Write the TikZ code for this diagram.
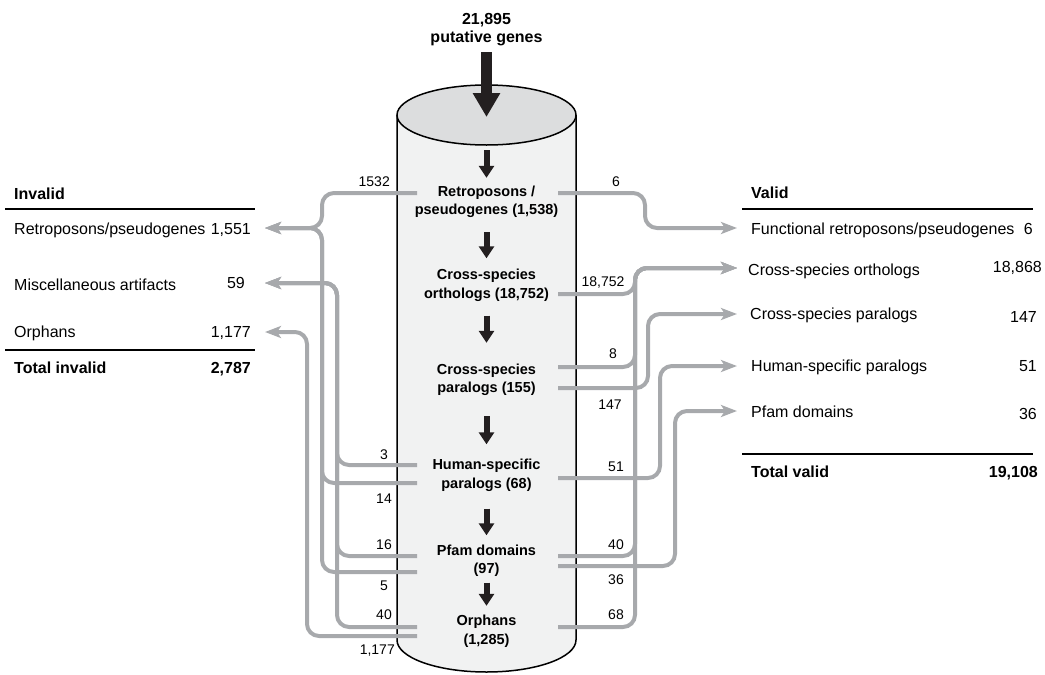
\documentclass[tikz,border=0pt]{standalone}
\usepackage{fontspec}
\setmainfont{Liberation Sans}
\usepackage{tikz}
\usetikzlibrary{arrows.meta, positioning}

\definecolor{flowgray}{HTML}{A7A9AC}
\definecolor{cylbody}{HTML}{F1F2F2}
\definecolor{cyltop}{HTML}{DCDDDE}
\definecolor{inkblack}{HTML}{231F20}

\begin{document}
\begin{tikzpicture}[
    x=1pt, y=-1pt,
    stage/.style={align=center, inner sep=0pt, font=\bfseries\fontsize{14.5}{18.5}\selectfont},
    listtext/.style={inner sep=0pt, font=\fontsize{16}{18}\selectfont},
    listhead/.style={inner sep=0pt, font=\bfseries\fontsize{16}{18}\selectfont},
    count/.style={inner sep=0pt, font=\fontsize{14}{16}\selectfont},
    rule/.style={draw=black, line width=2.5pt},
    flow/.style={draw=flowgray, line width=4pt, rounded corners=12pt},
    flowarrow/.style={flow, -{Stealth[length=16pt, width=12pt, inset=4pt]}},
    downarrow/.style={draw=inkblack, line width=6pt, -{Triangle[length=12pt, width=15pt]}},
    bigarrow/.style={draw=inkblack, line width=11pt, -{Triangle[length=24pt, width=26pt]}}
]
\useasboundingbox (0,0) rectangle (1045,675);

% the cylinder
\fill[cylbody] (397,115) -- (397,640) arc[start angle=180, end angle=0, x radius=89.5, y radius=32] -- (576,115) -- cycle;
\draw[line width=1.5pt] (397,115) -- (397,640) arc[start angle=180, end angle=0, x radius=89.5, y radius=32] -- (576,115);
\filldraw[fill=cyltop, line width=1.5pt] (486.5,115) ellipse [x radius=89.5, y radius=30];

% input
\node (title) [listhead, align=center] at (486.5,30) {21,895\\putative genes};
\coordinate (lid) at (486.5,117);
\draw[bigarrow, shorten <=6pt] (title) -- (lid);

% stages
\node (ret) [stage] at (486.5,202) {Retroposons /\\pseudogenes (1,538)};
\node (ortho) [stage] at (486.5,285.5) {Cross-species\\orthologs (18,752)};
\node (para) [stage] at (486.5,380) {Cross-species\\paralogs (155)};
\node (human) [stage] at (486.5,475.5) {Human-specific\\paralogs (68)};
\node (pfam) [stage] at (486.5,560.5) {Pfam domains\\(97)};
\node (orph) [stage] at (486.5,631) {Orphans\\(1,285)};

\coordinate (lidfront) at (486.5,150);
\draw[downarrow, shorten >=8pt] (lidfront) -- (ret);
\draw[downarrow, shorten <=14pt, shorten >=11pt] (ret) -- (ortho);
\draw[downarrow, shorten <=14pt, shorten >=21pt] (ortho) -- (para);
\draw[downarrow, shorten <=20pt, shorten >=15pt] (para) -- (human);
\draw[downarrow, shorten <=17pt, shorten >=9pt] (human) -- (pfam);
\draw[downarrow, shorten <=6pt, shorten >=9pt] (pfam) -- (orph);

% invalid list
\node (invhead) [listhead, anchor=base west] at (14,199) {Invalid};
\draw[rule] (5,209) -- (255,209);
\node (invret) [listtext, anchor=base west] at (14,234) {Retroposons/pseudogenes};
\node (invretn) [listtext, anchor=base east] at (251,234) {1,551};
\node (invmisc) [listtext, anchor=base west] at (14,290) {Miscellaneous artifacts};
\node (invmiscn) [listtext, anchor=base east] at (245,288) {59};
\node (invorph) [listtext, anchor=base west] at (14,337) {Orphans};
\node (invorphn) [listtext, anchor=base east] at (251,337) {1,177};
\draw[rule] (5,350) -- (255,350);
\node (invtot) [listhead, anchor=base west] at (14,373) {Total invalid};
\node (invtotn) [listhead, anchor=base east] at (251,373) {2,787};

% valid list
\node (valhead) [listhead, anchor=base west] at (751,198) {Valid};
\draw[rule] (742,209) -- (1033,209);
\node (valfunc) [listtext, anchor=base west] at (751,234) {Functional retroposons/pseudogenes};
\node (valfuncn) [listtext, anchor=base east] at (1033,234) {6};
\node (valortho) [listtext, anchor=base west] at (748,275) {Cross-species orthologs};
\node (valorthon) [listtext, anchor=base east] at (1042,272) {18,868};
\node (valpara) [listtext, anchor=base west] at (750,319) {Cross-species paralogs};
\node (valparan) [listtext, anchor=base east] at (1037,322) {147};
\node (valhuman) [listtext, anchor=base west] at (751,371) {Human-specific paralogs};
\node (valhumann) [listtext, anchor=base east] at (1037,371) {51};
\node (valpfam) [listtext, anchor=base west] at (751,417) {Pfam domains};
\node (valpfamn) [listtext, anchor=base east] at (1037,419) {36};
\draw[rule] (742,454) -- (1033,454);
\node (valtot) [listhead, anchor=base west] at (751,477) {Total valid};
\node (valtotn) [listhead, anchor=base east] at (1038,477) {19,108};

% flow ends
\coordinate (l1532) at (417,193);
\coordinate (l3) at (417,465);
\coordinate (l14) at (417,483);
\coordinate (l16) at (417,556);
\coordinate (l5) at (417,572);
\coordinate (l40) at (417,627);
\coordinate (l1177) at (417,636);
\coordinate (retjoin) at (322,228);
\coordinate (miscjoin) at (337,283);
\coordinate (orphjoin) at (307,332);
\coordinate (invrettip) at (265,228);
\coordinate (invmisctip) at (265,283);
\coordinate (invorphtip) at (265,332);

\coordinate (r6) at (558,193);
\coordinate (r18752) at (558,294);
\coordinate (r8) at (558,367);
\coordinate (r147) at (558,388);
\coordinate (r51) at (558,478);
\coordinate (r40) at (558,556);
\coordinate (r36) at (558,566);
\coordinate (r68) at (558,627);
\coordinate (funcjoin) at (645,228);
\coordinate (orthjoin) at (635,268);
\coordinate (parajoin) at (648,314);
\coordinate (humjoin) at (660,366);
\coordinate (pfamjoin) at (675,411);
\coordinate (valfunctip) at (737,228);
\coordinate (valorthotip) at (737,268);
\coordinate (valparatip) at (737,314);
\coordinate (valhumantip) at (737,366);
\coordinate (valpfamtip) at (737,411);

% invalid flows
\draw[flowarrow] (l1532) -| (retjoin) -- (invrettip);
\draw[flowarrow] (l14) -| (retjoin) -- (invrettip);
\draw[flowarrow] (l5) -| (retjoin) -- (invrettip);
\draw[flowarrow] (l3) -| (miscjoin) -- (invmisctip);
\draw[flowarrow] (l16) -| (miscjoin) -- (invmisctip);
\draw[flowarrow] (l40) -| (miscjoin) -- (invmisctip);
\draw[flowarrow] (l1177) -| (orphjoin) -- (invorphtip);

% valid flows
\draw[flowarrow] (r6) -| (funcjoin) -- (valfunctip);
\draw[flowarrow] (r18752) -| (orthjoin) -- (valorthotip);
\draw[flowarrow] (r8) -| (orthjoin) -- (valorthotip);
\draw[flowarrow] (r40) -| (orthjoin) -- (valorthotip);
\draw[flowarrow] (r68) -| (orthjoin) -- (valorthotip);
\draw[flowarrow] (r147) -| (parajoin) -- (valparatip);
\draw[flowarrow] (r51) -| (humjoin) -- (valhumantip);
\draw[flowarrow] (r36) -| (pfamjoin) -- (valpfamtip);

% counts on the flows
\node (c1532) [count, anchor=base east] at (390,186) {1532};
\node (c3) [count, anchor=base east] at (388,459) {3};
\node (c14) [count, anchor=base east] at (392,503) {14};
\node (c16) [count, anchor=base east] at (392,549) {16};
\node (c5) [count, anchor=base east] at (388,590) {5};
\node (c40l) [count, anchor=base east] at (392,619) {40};
\node (c1177) [count, anchor=base east] at (395,654) {1,177};
\node (c6) [count, anchor=base] at (616,186) {6};
\node (c18752) [count, anchor=base] at (603,286) {18,752};
\node (c8) [count, anchor=base] at (613,358) {8};
\node (c147) [count, anchor=base] at (610,409) {147};
\node (c51) [count, anchor=base] at (616,471) {51};
\node (c40r) [count, anchor=base] at (616,549) {40};
\node (c36) [count, anchor=base] at (616,584) {36};
\node (c68) [count, anchor=base] at (616,619) {68};
\end{tikzpicture}
\end{document}
